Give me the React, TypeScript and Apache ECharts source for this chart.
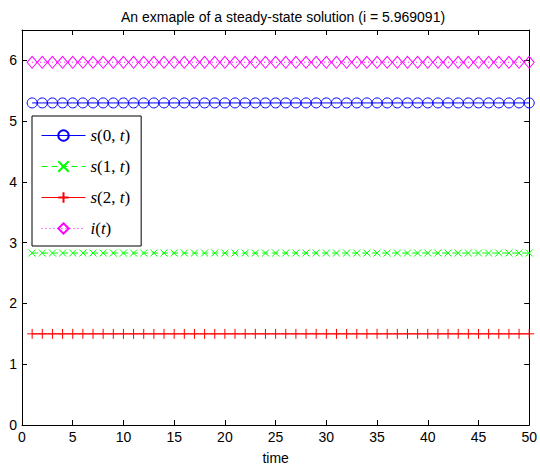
import React, { useEffect, useRef } from "react";
import * as echarts from "echarts";

const times = [1, 2, 3, 4, 5, 6, 7, 8, 9, 10, 11, 12, 13, 14, 15, 16, 17, 18, 19, 20, 21, 22, 23, 24, 25, 26, 27, 28, 29, 30, 31, 32, 33, 34, 35, 36, 37, 38, 39, 40, 41, 42, 43, 44, 45, 46, 47, 48, 49, 50];
const s0 = [5.3, 5.3, 5.3, 5.3, 5.3, 5.3, 5.3, 5.3, 5.3, 5.3, 5.3, 5.3, 5.3, 5.3, 5.3, 5.3, 5.3, 5.3, 5.3, 5.3, 5.3, 5.3, 5.3, 5.3, 5.3, 5.3, 5.3, 5.3, 5.3, 5.3, 5.3, 5.3, 5.3, 5.3, 5.3, 5.3, 5.3, 5.3, 5.3, 5.3, 5.3, 5.3, 5.3, 5.3, 5.3, 5.3, 5.3, 5.3, 5.3, 5.3];
const s1 = [2.83, 2.83, 2.83, 2.83, 2.83, 2.83, 2.83, 2.83, 2.83, 2.83, 2.83, 2.83, 2.83, 2.83, 2.83, 2.83, 2.83, 2.83, 2.83, 2.83, 2.83, 2.83, 2.83, 2.83, 2.83, 2.83, 2.83, 2.83, 2.83, 2.83, 2.83, 2.83, 2.83, 2.83, 2.83, 2.83, 2.83, 2.83, 2.83, 2.83, 2.83, 2.83, 2.83, 2.83, 2.83, 2.83, 2.83, 2.83, 2.83, 2.83];
const s2 = [1.5, 1.5, 1.5, 1.5, 1.5, 1.5, 1.5, 1.5, 1.5, 1.5, 1.5, 1.5, 1.5, 1.5, 1.5, 1.5, 1.5, 1.5, 1.5, 1.5, 1.5, 1.5, 1.5, 1.5, 1.5, 1.5, 1.5, 1.5, 1.5, 1.5, 1.5, 1.5, 1.5, 1.5, 1.5, 1.5, 1.5, 1.5, 1.5, 1.5, 1.5, 1.5, 1.5, 1.5, 1.5, 1.5, 1.5, 1.5, 1.5, 1.5];
const iT = [5.969091, 5.969091, 5.969091, 5.969091, 5.969091, 5.969091, 5.969091, 5.969091, 5.969091, 5.969091, 5.969091, 5.969091, 5.969091, 5.969091, 5.969091, 5.969091, 5.969091, 5.969091, 5.969091, 5.969091, 5.969091, 5.969091, 5.969091, 5.969091, 5.969091, 5.969091, 5.969091, 5.969091, 5.969091, 5.969091, 5.969091, 5.969091, 5.969091, 5.969091, 5.969091, 5.969091, 5.969091, 5.969091, 5.969091, 5.969091, 5.969091, 5.969091, 5.969091, 5.969091, 5.969091, 5.969091, 5.969091, 5.969091, 5.969091, 5.969091];
const seriesNames = ["s(0, t)", "s(1, t)", "s(2, t)", "i(t)"];
const titleText = "An exmaple of a steady-state solution (i = 5.969091)";

const FONT = "'Liberation Sans', Arial, Helvetica, sans-serif";
const SERIF = "'Liberation Serif', 'DejaVu Serif', serif";
const CLEAR = "rgba(255,255,255,0)";

const pairs = (ys: number[]) => times.map((t, k) => [t, ys[k]]);

function legendFormatter(name: string) {
  const m = name.match(/^([a-z])\((.*)\)$/);
  if (!m) return name;
  const inner = m[2].split(", ");
  if (inner.length === 2) {
    return `{i|${m[1]}}{n|(${inner[0]}, }{i|${inner[1]}}{n|)}`;
  }
  return `{i|${m[1]}}{n|(}{i|${inner[0]}}{n|)}`;
}

export default function App() {
  const ref = useRef<HTMLDivElement>(null);
  useEffect(() => {
    if (!ref.current) return;
    const chart = echarts.init(ref.current, undefined, { renderer: "svg" });
    const axisCommon = {
      type: "value" as const,
      axisLine: { show: true, onZero: false, lineStyle: { color: "#000", width: 1 } },
      axisTick: { show: true, inside: true, length: 5, lineStyle: { color: "#000" } },
      splitLine: { show: false },
    };
    chart.setOption({
      animation: false,
      backgroundColor: "#fff",
      title: {
        text: titleText,
        left: 278,
        textAlign: "center",
        top: 5,
        textStyle: { fontFamily: FONT, fontSize: 14, fontWeight: "normal", color: "#000" },
      },
      grid: { left: 22, right: 5, top: 30, bottom: 39, containLabel: false },
      xAxis: [
        {
          ...axisCommon,
          position: "bottom",
          min: 0,
          max: 50,
          interval: 5,
          name: "time",
          nameLocation: "middle",
          nameGap: 26,
          nameTextStyle: { fontFamily: FONT, fontSize: 14, color: "#000" },
          axisLabel: { fontFamily: FONT, fontSize: 14, color: "#000", margin: 5 },
        },
        {
          ...axisCommon,
          position: "top",
          min: 0,
          max: 50,
          interval: 5,
          axisLabel: { show: false },
        },
      ],
      yAxis: [
        {
          ...axisCommon,
          position: "left",
          min: 0,
          max: 6.5,
          interval: 1,
          axisLabel: { fontFamily: FONT, fontSize: 14, color: "#000", margin: 5, showMaxLabel: false },
        },
        {
          ...axisCommon,
          position: "right",
          min: 0,
          max: 6.5,
          interval: 1,
          axisLabel: { show: false },
        },
      ],
      legend: {
        orient: "vertical",
        left: 32,
        top: 116,
        data: seriesNames,
        backgroundColor: "#fff",
        borderColor: "#000",
        borderWidth: 1,
        padding: [11, 11, 9, 9],
        itemWidth: 44,
        itemHeight: 13,
        itemGap: 14,
        lineStyle: { width: 1 },
        formatter: legendFormatter,
        textStyle: {
          fontSize: 16,
          color: "#000",
          rich: {
            i: { fontFamily: SERIF, fontStyle: "italic", fontSize: 17, color: "#000" },
            n: { fontFamily: SERIF, fontSize: 17, color: "#000" },
          },
        },
      },
      series: [
        {
          name: seriesNames[0],
          type: "line",
          data: pairs(s0),
          symbol: "circle",
          symbolSize: 10,
          showAllSymbol: true,
          lineStyle: { color: "#0000ff", width: 1, type: "solid" },
          itemStyle: { color: CLEAR, borderColor: "#0000ff", borderWidth: 1 },
        },
        {
          name: seriesNames[1],
          type: "line",
          data: pairs(s1),
          symbol: "path://M0,0L10,10M10,0L0,10",
          symbolSize: 7,
          showAllSymbol: true,
          lineStyle: { color: "#00ff00", width: 1, type: [6, 4] },
          itemStyle: { color: CLEAR, borderColor: "#00ff00", borderWidth: 1 },
        },
        {
          name: seriesNames[2],
          type: "line",
          data: pairs(s2),
          symbol: "path://M5,0L5,10M0,5L10,5",
          symbolSize: 10,
          showAllSymbol: true,
          lineStyle: { color: "#ff0000", width: 1, type: "solid" },
          itemStyle: { color: CLEAR, borderColor: "#ff0000", borderWidth: 1 },
        },
        {
          name: seriesNames[3],
          type: "line",
          data: pairs(iT),
          symbol: "diamond",
          symbolSize: [10, 12],
          showAllSymbol: true,
          lineStyle: { color: "#ff00ff", width: 1, type: [1, 3] },
          itemStyle: { color: CLEAR, borderColor: "#ff00ff", borderWidth: 1 },
        },
      ],
    });
    return () => chart.dispose();
  }, []);
  return <div ref={ref} style={{ position: "absolute", left: 0, top: 0, width: 540, height: 470 }} />;
}
